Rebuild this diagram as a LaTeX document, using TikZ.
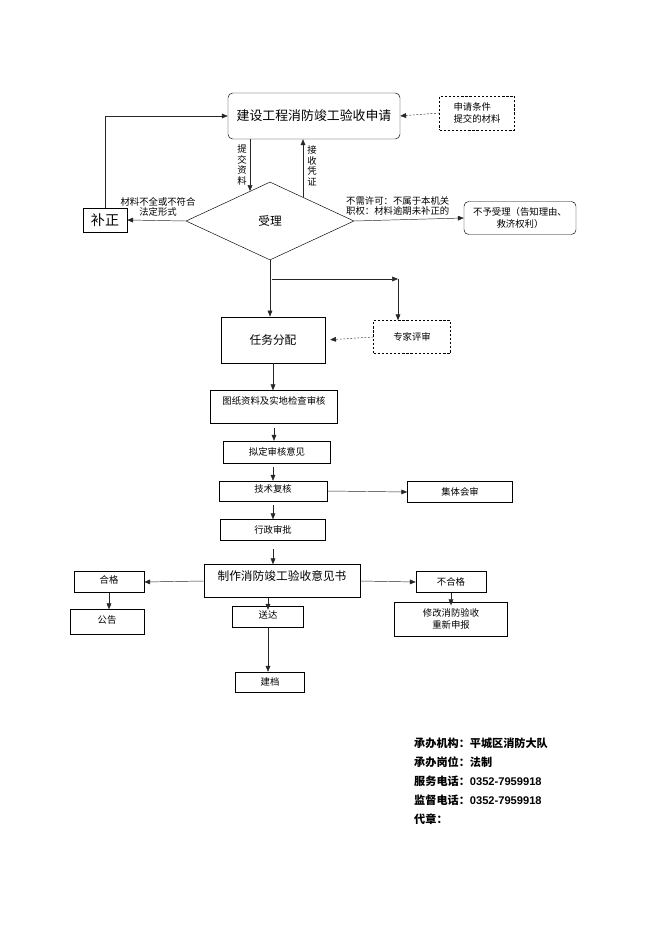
\documentclass[tikz,border=0pt]{standalone}
\usepackage{fontspec}
\setmainfont{Noto Sans CJK SC}
\newfontfamily\latinfont{Liberation Sans}
\usetikzlibrary{shapes.geometric,arrows.meta}
\begin{document}
\begin{tikzpicture}[x=0.03cm,y=-0.03cm,
	box/.style={draw,rectangle,inner sep=1pt,font=\fontsize{8}{10}\selectfont,align=center},
	rbox/.style={box,rounded corners=4pt},
	dbox/.style={box,dashed,dash pattern=on 2pt off 1.5pt},
	arr/.style={draw=black!85,-{Triangle[length=5pt,width=4pt]}},
	darr/.style={arr,dash pattern=on 1.5pt off 1.5pt},
	lbl/.style={inner sep=0pt,font=\fontsize{8}{9}\selectfont,align=center}]
	\useasboundingbox (0,0) rectangle (662,936);
	% top part
	\node[rbox,minimum width=5.16cm,minimum height=1.38cm,font=\fontsize{11}{13}\selectfont] (apply) at (314,116) {建设工程消防竣工验收申请};
	\node[dbox,minimum width=2.25cm,minimum height=1.02cm,align=left] (cond) at (477,113) {申请条件\\提交的材料};
	\node[diamond,draw,inner sep=0pt,minimum width=5.04cm,minimum height=2.34cm,font=\fontsize{10}{12}\selectfont] (accept) at (270,221) {受理};
	\node[box,minimum width=1.32cm,minimum height=0.72cm,font=\fontsize{12}{14}\selectfont] (fix) at (105,220) {补正};
	\node[rbox,minimum width=3.36cm,minimum height=0.99cm] (reject) at (520,218) {不予受理（告知理由、\\救济权利）};
	\coordinate (in) at (250,191);
	\coordinate (back) at (303,197);
	\draw[arr] (apply.south -| in) -- (in);
	\draw[arr] (back) -- (back |- apply.south);
	\node[lbl] (submit) at (242,165) {提\\交\\资\\料};
	\node[lbl] (receipt) at (312,166) {接\\收\\凭\\证};
	\draw[darr] (cond.west) -- (apply.east);
	\draw[arr] (accept.west) -- (fix.east);
	\node[lbl] (lack) at (158,207) {材料不全或不符合\\法定形式};
	\draw[arr] (fix.north) |- (apply.west);
	\draw[arr] (accept.east) -- (reject.west);
	\node[lbl,anchor=south west,align=left] (nolic) at (346,216) {不需许可：不属于本机关\\职权：材料逾期未补正的};
	% middle part
	\node[box,line width=0.8pt,minimum width=3.12cm,minimum height=1.38cm,font=\fontsize{10}{12}\selectfont] (task) at (273,340) {任务分配};
	\node[dbox,minimum width=2.31cm,minimum height=0.99cm] (expert) at (412,337) {专家评审};
	\coordinate (br) at (272,279);
	\coordinate (cr) at (398,279);
	\draw[arr] (accept.south) -- (task.north -| accept.south);
	\draw[arr] (br) -- (cr);
	\draw[arr] (cr) -- (cr |- expert.north);
	\draw[darr,shorten >=4pt] (expert.west) -- (task.east);
	\node[box,text depth=11pt,minimum width=3.81cm,minimum height=0.99cm] (check) at (274,407) {图纸资料及实地检查审核};
	\node[box,minimum width=3.21cm,minimum height=0.66cm] (draft) at (277,452) {拟定审核意见};
	\node[box,text depth=5pt,minimum width=3.24cm,minimum height=0.6cm] (tech) at (273,491) {技术复核};
	\node[box,minimum width=3.15cm,minimum height=0.63cm] (group) at (460,492) {集体会审};
	\node[box,minimum width=3.15cm,minimum height=0.63cm] (admin) at (273,530) {行政审批};
	\draw[arr] (task.south) -- (task.south |- check.north);
	\draw[arr,shorten <=4pt] (check.south) -- (check.south |- draft.north);
	\draw[arr,shorten <=3pt] (tech.south |- draft.south) -- (tech.north);
	\draw[arr] (tech.east) -- (group.west);
	\draw[arr,shorten <=3pt] (tech.south) -- (admin.north);
	% bottom part
	\node[box,text depth=10pt,minimum width=4.68cm,minimum height=0.99cm,font=\fontsize{10}{12}\selectfont] (make) at (282,581) {制作消防竣工验收意见书};
	\node[box,text depth=5pt,minimum width=2.1cm,minimum height=0.63cm] (pass) at (109,582) {合格};
	\node[box,text depth=5pt,minimum width=2.22cm,minimum height=0.75cm] (notice) at (107,622) {公告};
	\node[box,minimum width=2.1cm,minimum height=0.63cm] (fail) at (451,582) {不合格};
	\node[box,minimum width=3.39cm,minimum height=1.02cm] (redo) at (451,619) {修改消防验收\\重新申报};
	\node[box,text depth=5pt,minimum width=2.13cm,minimum height=0.63cm] (deliver) at (268,617) {送达};
	\node[box,minimum width=2.07cm,minimum height=0.6cm] (file) at (270,682) {建档};
	\draw[arr,shorten <=7pt] (admin.south) -- (admin.south |- make.north);
	\draw[arr] (make.west) -- (pass.east);
	\draw[arr] (pass.south) -- (pass.south |- notice.north);
	\draw[arr] (make.east) -- (fail.west);
	\draw[arr] (fail.south) -- ([yshift=-3pt]fail.south |- redo.north);
	\draw[arr] (make.south -| deliver.north) -- ([yshift=-3pt]deliver.north);
	\draw[arr] (deliver.south) -- (deliver.south |- file.north);
	% info
	\node[anchor=north west,align=left,inner sep=0pt,font=\fontsize{9.5}{16.2}\selectfont\bfseries] (info) at (414,738) {承办机构：平城区消防大队\\承办岗位：法制\\服务电话：{\latinfont 0352-7959918}\\监督电话：{\latinfont 0352-7959918}\\代章：};
\end{tikzpicture}
\end{document}
